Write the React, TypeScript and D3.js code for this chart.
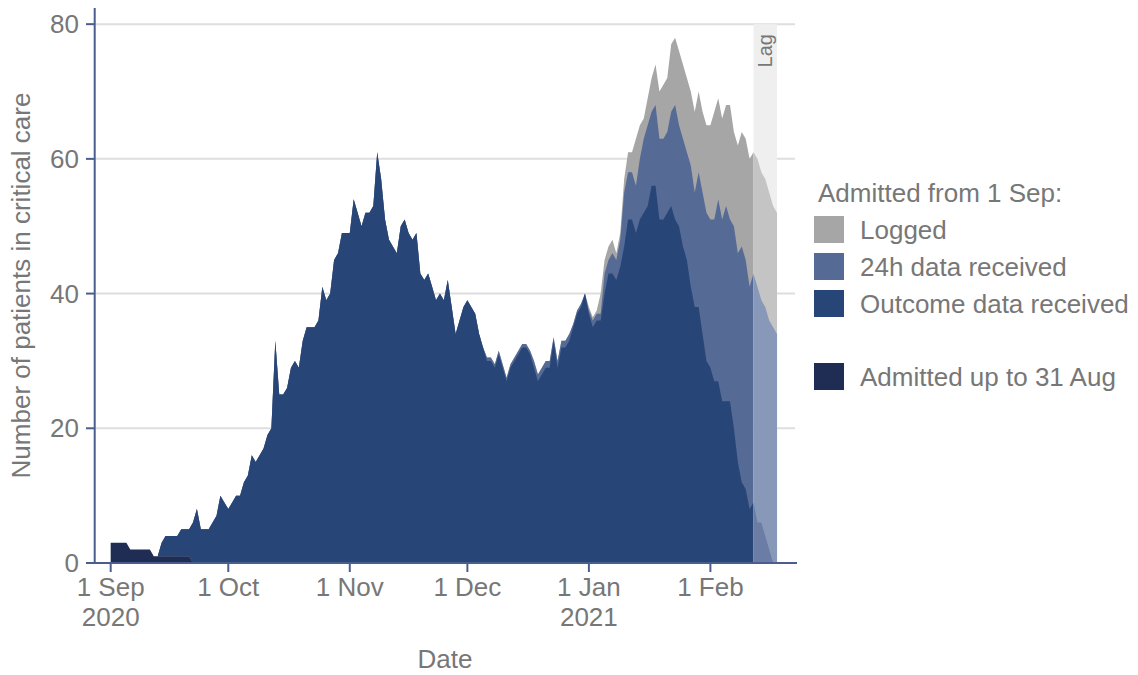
import React from "react";
import * as d3 from "d3";

// ---------- DATA ----------
const firstDay = "2020-09-01";
const lagStart = "2021-02-12";
const lagEnd = "2021-02-18";

// Patients admitted up to 31 Aug still in critical care (from 1 Sep)
const admittedUpTo31Aug = [3, 3, 3, 3, 3, 2, 2, 2, 2, 2, 2, 1, 1, 1, 1, 1, 1, 1, 1, 1, 1, 0];

// Patients admitted from 1 Sep, nested counts (outcome <= 24h <= logged), daily from 1 Sep
const outcomeReceived = [
  0, 0, 0, 0, 0, 0, 0, 0, 0, 0, 0, 0, 0, 2, 3, 3, 3, 3, 4, 4,
  4, 6, 8, 5, 5, 5, 6, 7, 10, 9, 8, 9, 10, 10, 12, 13, 16, 15, 16, 17,
  19, 20, 33, 25, 25, 26, 29, 30, 29, 33, 35, 35, 35, 36, 41, 39, 40, 45, 46, 49,
  49, 49, 54, 52, 50, 52, 52, 53, 61, 57, 51, 48, 47, 46, 50, 51, 49, 48, 49, 43,
  42, 43, 41, 39, 40, 39, 42, 38, 34, 36, 38, 39, 38, 37, 34, 32, 30, 30, 29, 31,
  29, 27, 29, 30, 31, 32, 32, 31, 29, 27, 28, 29, 29, 33, 29, 32, 32, 33, 35, 37,
  38, 40, 37, 35, 36, 36, 40, 43, 43, 42, 44, 47, 51, 51, 49, 51, 52, 53, 56, 56,
  51, 51, 52, 53, 51, 50, 47, 45, 41, 38, 38, 34, 30, 29, 27, 27, 24, 24, 24, 20,
  15, 12, 11, 8, 9, 6, 6, 4, 2, 0, 0,
];

const received24h = [
  0, 0, 0, 0, 0, 0, 0, 0, 0, 0, 0, 0, 0, 2, 3, 3, 3, 3, 4, 4,
  4, 6, 8, 5, 5, 5, 6, 7, 10, 9, 8, 9, 10, 10, 12, 13, 16, 15, 16, 17,
  19, 20, 33, 25, 25, 26, 29, 30, 29, 33, 35, 35, 35, 36, 41, 39, 40, 45, 46, 49,
  49, 49, 54, 52, 50, 52, 52, 53, 61, 57, 51, 48, 47, 46, 50, 51, 49, 48, 49, 43,
  42, 43, 41, 39, 40, 39, 42, 38, 34, 36, 38, 39, 38, 37, 34, 32, 30.5, 30.5, 29.5, 31.5,
  29.5, 27.5, 29.5, 30.5, 31.5, 32.5, 32.5, 31.5, 30, 28, 29, 30, 30, 33.5, 30, 33, 33, 34, 35.5, 37.5,
  38.5, 40, 37.5, 36, 37, 37, 43, 45, 46, 45, 48, 55, 58, 58, 56, 60, 63, 65, 67, 68,
  63, 63, 64, 67, 68, 65, 63, 61, 59, 55, 58, 55, 52, 51, 51, 54, 51, 53, 51, 50,
  46, 47, 45, 41, 43, 41, 39, 38, 36, 35, 34,
];

const logged = [
  0, 0, 0, 0, 0, 0, 0, 0, 0, 0, 0, 0, 0, 2, 3, 3, 3, 3, 4, 4,
  4, 6, 8, 5, 5, 5, 6, 7, 10, 9, 8, 9, 10, 10, 12, 13, 16, 15, 16, 17,
  19, 20, 33, 25, 25, 26, 29, 30, 29, 33, 35, 35, 35, 36, 41, 39, 40, 45, 46, 49,
  49, 49, 54, 52, 50, 52, 52, 53, 61, 57, 51, 48, 47, 46, 50, 51, 49, 48, 49, 43,
  42, 43, 41, 39, 40, 39, 42, 38, 34, 36, 38, 39, 38, 37, 34, 32, 30.5, 30.5, 29.5, 31.5,
  29.5, 27.5, 29.5, 30.5, 31.5, 32.5, 32.5, 31.5, 30, 28, 29, 30, 30, 33.5, 30, 33, 33, 34, 35.5, 37.5,
  38.5, 40, 38, 36.5, 37.5, 40, 45, 47, 48, 46, 49, 57, 61, 61, 63, 65, 66, 69, 72, 74,
  70, 71, 72, 77, 78, 76, 74, 72, 70, 67, 70, 67, 65, 65, 67, 69, 66, 68, 68, 64,
  62, 64, 63, 60, 61, 60, 58, 57, 55, 53, 52,
];

const xTickDates = ["2020-09-01", "2020-10-01", "2020-11-01", "2020-12-01", "2021-01-01", "2021-02-01"];
const xTickLabels = [["1 Sep", "2020"], ["1 Oct"], ["1 Nov"], ["1 Dec"], ["1 Jan", "2021"], ["1 Feb"]];
const yTicks = [0, 20, 40, 60, 80];

const legendTitle = "Admitted from 1 Sep:";
const legendItems = ["Logged", "24h data received", "Outcome data received"];
const legendExtra = "Admitted up to 31 Aug";
const axisTitleX = "Date";
const axisTitleY = "Number of patients in critical care";
const lagLabel = "Lag";

// ---------- STYLE ----------
const COL = {
  logged: "#a6a6a6",
  h24: "#566a96",
  outcome: "#274677",
  pre: "#1f2c53",
  loggedLag: "#c4c4c4",
  h24Lag: "#8898b9",
  outcomeLag: "#6b7da5",
  lagBg: "#efefef",
  grid: "#dedede",
  axis: "#4a5e8e",
  text: "#777777",
};
const FONT = "'Liberation Sans', Arial, Helvetica, sans-serif";
const FS = 26;

const utc = (s: string) => new Date(s + "T00:00:00Z");
const DAY = 86400000;

export default function App() {
  const x = d3
    .scaleUtc()
    .domain([utc("2020-08-28"), new Date(Date.UTC(2021, 1, 22, 14))])
    .range([95, 795]);
  const y = d3.scaleLinear().domain([0, 82.4]).range([563, 8]);

  const t0 = utc(firstDay).getTime();
  const rows = outcomeReceived.map((o, i) => ({
    date: new Date(t0 + i * DAY),
    pre: admittedUpTo31Aug[i] ?? 0,
    outcome: o,
    h24: received24h[i],
    logged: logged[i],
  }));
  type Row = (typeof rows)[number];
  const mk = (f: (r: Row) => number) =>
    d3
      .area<Row>()
      .x((r) => x(r.date))
      .y0((r) => y(r.pre))
      .y1((r) => y(r.pre + f(r)))(rows) as string;

  const loggedPath = mk((r) => r.logged);
  const h24Path = mk((r) => r.h24);
  const outcomePath = mk((r) => r.outcome);
  const preRows = rows.slice(0, admittedUpTo31Aug.length);
  const prePath = d3
    .area<Row>()
    .x((r) => x(r.date))
    .y0(y(0))
    .y1((r) => y(r.pre))(preRows) as string;

  const xl0 = x(utc(lagStart));
  const xl1 = x(utc(lagEnd));

  return (
    <svg
      width={1138}
      height={675}
      style={{ position: "absolute", left: 0, top: 0, display: "block" }}
      fontFamily={FONT}
    >
      <defs>
        <clipPath id="preLag">
          <rect x={0} y={0} width={xl0} height={675} />
        </clipPath>
        <clipPath id="inLag">
          <rect x={xl0} y={0} width={1138 - xl0} height={675} />
        </clipPath>
      </defs>
      <rect width={1138} height={675} fill="#fff" />

      {/* gridlines */}
      {yTicks.filter((v) => v > 0).map((v) => (
        <line key={v} x1={95} x2={795} y1={y(v)} y2={y(v)} stroke={COL.grid} strokeWidth={2} />
      ))}

      {/* lag band */}
      <rect x={xl0} y={y(80)} width={xl1 - xl0} height={y(0) - y(80)} fill={COL.lagBg} />
      <text
        transform={`translate(${(xl0 + xl1) / 2 + 7},${34}) rotate(-90)`}
        textAnchor="end"
        fontSize={20}
        fill={COL.text}
      >
        {lagLabel}
      </text>

      {/* areas before lag */}
      <g clipPath="url(#preLag)">
        <path d={loggedPath} fill={COL.logged} />
        <path d={h24Path} fill={COL.h24} />
        <path d={outcomePath} fill={COL.outcome} />
      </g>
      <g clipPath="url(#inLag)">
        <path d={loggedPath} fill={COL.loggedLag} />
        <path d={h24Path} fill={COL.h24Lag} />
        <path d={outcomePath} fill={COL.outcomeLag} />
      </g>
      <path d={prePath} fill={COL.pre} />

      {/* axes */}
      <line x1={94.7} x2={94.7} y1={8} y2={563} stroke={COL.axis} strokeWidth={2} />
      <line x1={94} x2={797} y1={563} y2={563} stroke={COL.axis} strokeWidth={2} />
      {yTicks.map((v) => (
        <g key={v}>
          <line x1={86} x2={95} y1={y(v)} y2={y(v)} stroke={COL.axis} strokeWidth={2} />
          <text x={79} y={y(v)} dy="0.35em" textAnchor="end" fontSize={FS} fill={COL.text}>
            {v}
          </text>
        </g>
      ))}
      {xTickDates.map((s, i) => {
        const xp = x(utc(s));
        return (
          <g key={s}>
            <line x1={xp} x2={xp} y1={563} y2={572} stroke={COL.axis} strokeWidth={2} />
            {xTickLabels[i].map((l, j) => (
              <text key={j} x={xp} y={596 + j * 30} textAnchor="middle" fontSize={FS} fill={COL.text}>
                {l}
              </text>
            ))}
          </g>
        );
      })}

      <text x={445} y={668} textAnchor="middle" fontSize={FS} fill={COL.text}>
        {axisTitleX}
      </text>
      <text transform="translate(30,285.5) rotate(-90)" textAnchor="middle" fontSize={FS} fill={COL.text}>
        {axisTitleY}
      </text>

      {/* legend */}
      <text x={818} y={201.5} fontSize={FS} fill={COL.text}>
        {legendTitle}
      </text>
      {legendItems.map((l, i) => (
        <g key={l}>
          <rect x={814} y={216 + i * 37} width={30} height={27} fill={[COL.logged, COL.h24, COL.outcome][i]} />
          <text x={860} y={238.5 + i * 37} fontSize={FS} fill={COL.text}>
            {l}
          </text>
        </g>
      ))}
      <rect x={814} y={363} width={30} height={27} fill={COL.pre} />
      <text x={860} y={385.5} fontSize={FS} fill={COL.text}>
        {legendExtra}
      </text>
    </svg>
  );
}
